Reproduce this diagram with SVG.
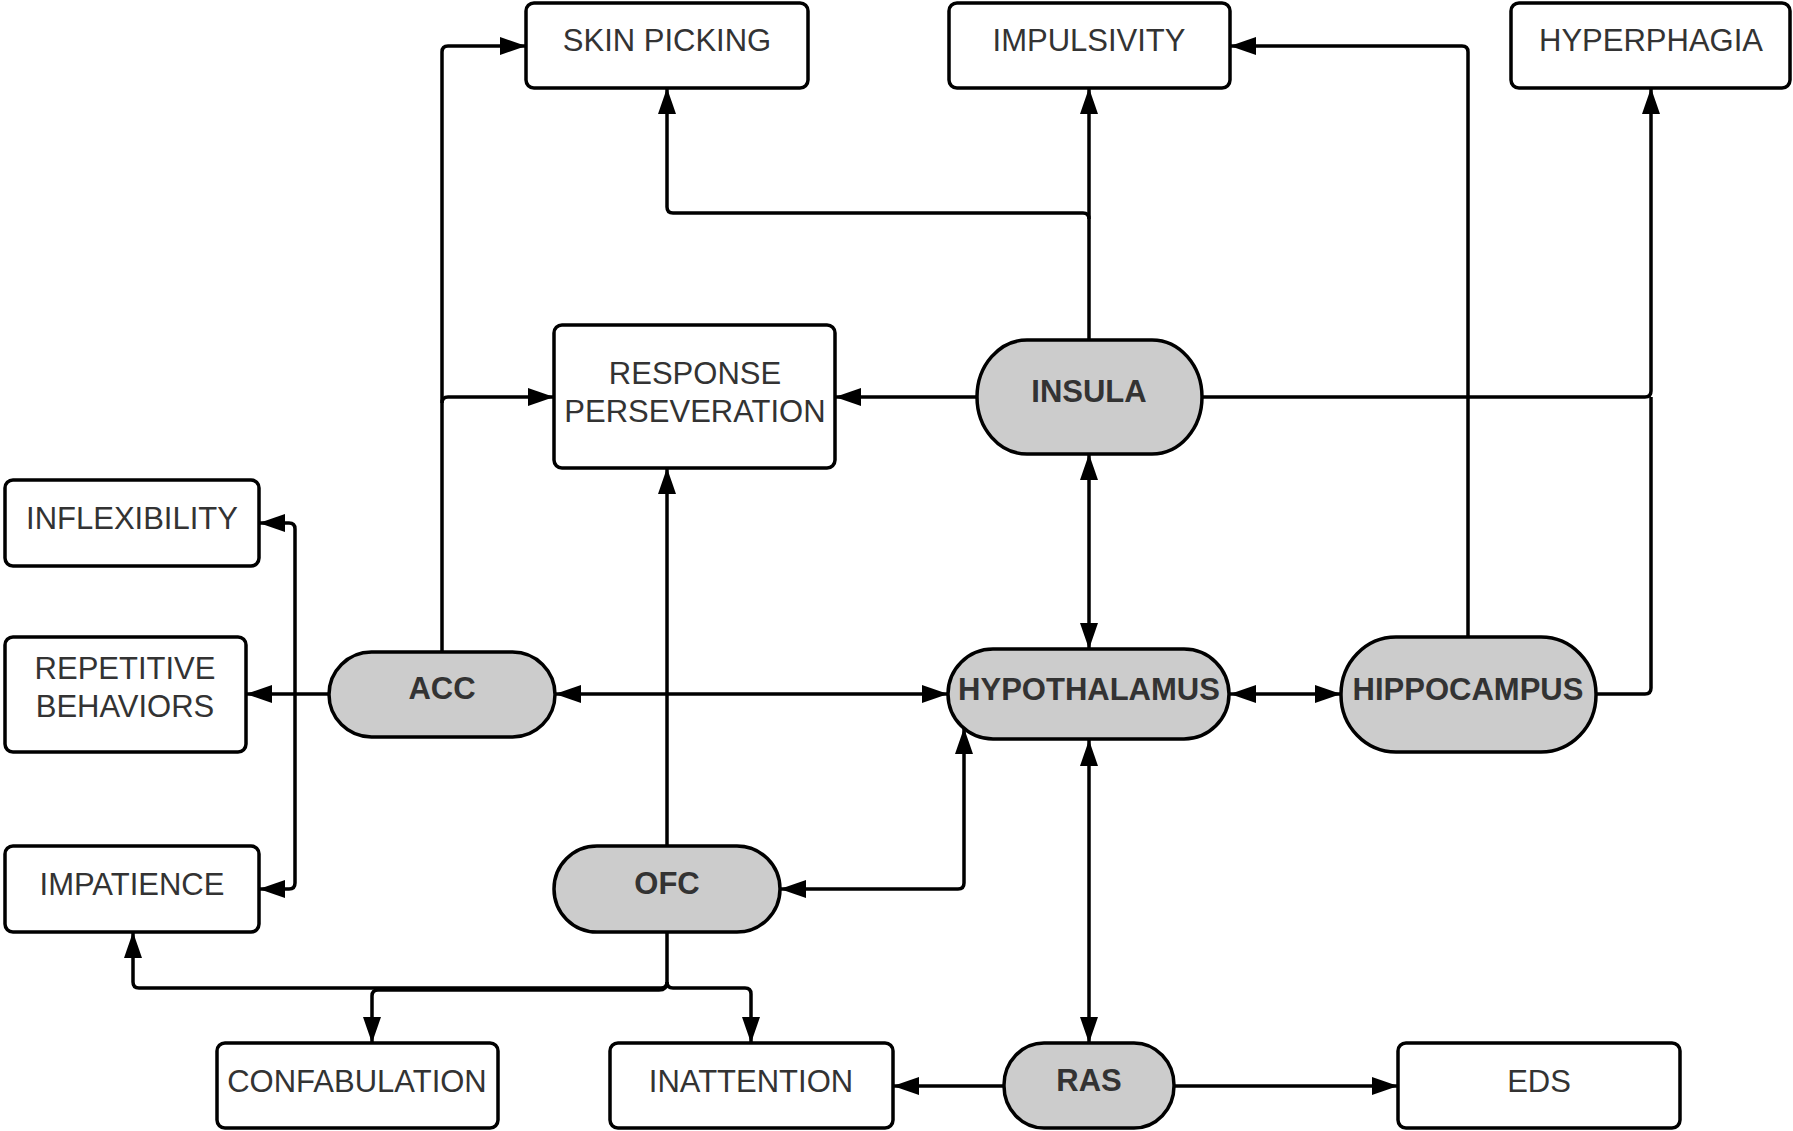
<svg xmlns="http://www.w3.org/2000/svg" width="1793" height="1131" viewBox="0 0 1793 1131">
<style>
.box{fill:#fff;stroke:#000;stroke-width:3.5}
.reg{fill:#cccccc;stroke:#000;stroke-width:3.5}
.t{font-family:"Liberation Sans",Arial,sans-serif;font-size:31px;fill:#333;text-anchor:middle}
.b{font-weight:bold}
.c{fill:none;stroke:#000;stroke-width:3.5;stroke-linejoin:round}
</style>
<defs>
<marker id="a" markerUnits="userSpaceOnUse" markerWidth="26" markerHeight="18" refX="26" refY="9" orient="auto-start-reverse" viewBox="0 0 26 18">
<path d="M0,0 L26,9 L0,18 z" fill="#000"/>
</marker>
</defs>
<rect width="1793" height="1131" fill="#fff"/>
<g id="connectors">
<path class="c" d="M442,652 V52 Q442,46 448,46 H526" marker-end="url(#a)"/>
<path class="c" d="M442,403 Q442,397 448,397 H554" marker-end="url(#a)"/>
<path class="c" d="M977,397 H835" marker-end="url(#a)"/>
<path class="c" d="M1089,340 V88" marker-end="url(#a)"/>
<path class="c" d="M1089,219 Q1089,213 1083,213 H673 Q667,213 667,207 V88" marker-end="url(#a)"/>
<path class="c" d="M1202,397 H1645 Q1651,397 1651,391 V88" marker-end="url(#a)"/>
<path class="c" d="M1596,694 H1645 Q1651,694 1651,688 V397"/>
<path class="c" d="M1468,637 V52 Q1468,46 1462,46 H1230" marker-end="url(#a)"/>
<path class="c" d="M1089,454 V649" marker-start="url(#a)" marker-end="url(#a)"/>
<path class="c" d="M555,694 H948" marker-start="url(#a)" marker-end="url(#a)"/>
<path class="c" d="M1230,694 H1341" marker-start="url(#a)" marker-end="url(#a)"/>
<path class="c" d="M1089,740 V1043" marker-start="url(#a)" marker-end="url(#a)"/>
<path class="c" d="M667,846 V468" marker-end="url(#a)"/>
<path class="c" d="M780,889 H958 Q964,889 964,883 V728" marker-start="url(#a)" marker-end="url(#a)"/>
<path class="c" d="M329,694 H246" marker-end="url(#a)"/>
<path class="c" d="M259,523 H289 Q295,523 295,529 V883 Q295,889 289,889 H259" marker-start="url(#a)" marker-end="url(#a)"/>
<path class="c" d="M667,932 V982 Q667,988 661,988 H139 Q133,988 133,982 V932" marker-end="url(#a)"/>
<path class="c" d="M667,982 Q667,990 659,990 H378 Q372,990 372,996 V1043" marker-end="url(#a)"/>
<path class="c" d="M667,982 Q667,988 673,988 H745 Q751,988 751,994 V1043" marker-end="url(#a)"/>
<path class="c" d="M1004,1086 H893" marker-end="url(#a)"/>
<path class="c" d="M1174,1086 H1398" marker-end="url(#a)"/>
</g>
<g id="skin-picking"><rect class="box" x="526" y="3" width="282" height="85" rx="8"/><text class="t" x="667" y="51">SKIN PICKING</text></g>
<g id="impulsivity"><rect class="box" x="949" y="3" width="281" height="85" rx="8"/><text class="t" x="1089" y="51">IMPULSIVITY</text></g>
<g id="hyperphagia"><rect class="box" x="1511" y="3" width="279" height="85" rx="8"/><text class="t" x="1651" y="51">HYPERPHAGIA</text></g>
<g id="response-perseveration"><rect class="box" x="554" y="325" width="281" height="143" rx="8"/><text class="t" x="695" y="384">RESPONSE</text><text class="t" x="695" y="422">PERSEVERATION</text></g>
<g id="insula"><rect class="reg" x="977" y="340" width="225" height="114" rx="50" ry="57"/><text class="t b" x="1089" y="402">INSULA</text></g>
<g id="inflexibility"><rect class="box" x="5" y="480" width="254" height="86" rx="8"/><text class="t" x="132" y="529">INFLEXIBILITY</text></g>
<g id="repetitive-behaviors"><rect class="box" x="5" y="637" width="241" height="115" rx="8"/><text class="t" x="125" y="679">REPETITIVE</text><text class="t" x="125" y="717">BEHAVIORS</text></g>
<g id="acc"><rect class="reg" x="329" y="652" width="226" height="85" rx="42.5"/><text class="t b" x="442" y="699">ACC</text></g>
<g id="hypothalamus"><rect class="reg" x="948" y="649" width="281" height="90" rx="45"/><text class="t b" x="1089" y="700">HYPOTHALAMUS</text></g>
<g id="hippocampus"><rect class="reg" x="1341" y="637" width="255" height="115" rx="55" ry="57"/><text class="t b" x="1468" y="700">HIPPOCAMPUS</text></g>
<g id="impatience"><rect class="box" x="5" y="846" width="254" height="86" rx="8"/><text class="t" x="132" y="895">IMPATIENCE</text></g>
<g id="ofc"><rect class="reg" x="554" y="846" width="226" height="86" rx="43"/><text class="t b" x="667" y="894">OFC</text></g>
<g id="confabulation"><rect class="box" x="217" y="1043" width="281" height="85" rx="8"/><text class="t" x="357" y="1092">CONFABULATION</text></g>
<g id="inattention"><rect class="box" x="610" y="1043" width="283" height="85" rx="8"/><text class="t" x="751" y="1092">INATTENTION</text></g>
<g id="ras"><rect class="reg" x="1004" y="1043" width="170" height="85" rx="40" ry="42"/><text class="t b" x="1089" y="1091">RAS</text></g>
<g id="eds"><rect class="box" x="1398" y="1043" width="282" height="85" rx="8"/><text class="t" x="1539" y="1092">EDS</text></g>
</svg>
